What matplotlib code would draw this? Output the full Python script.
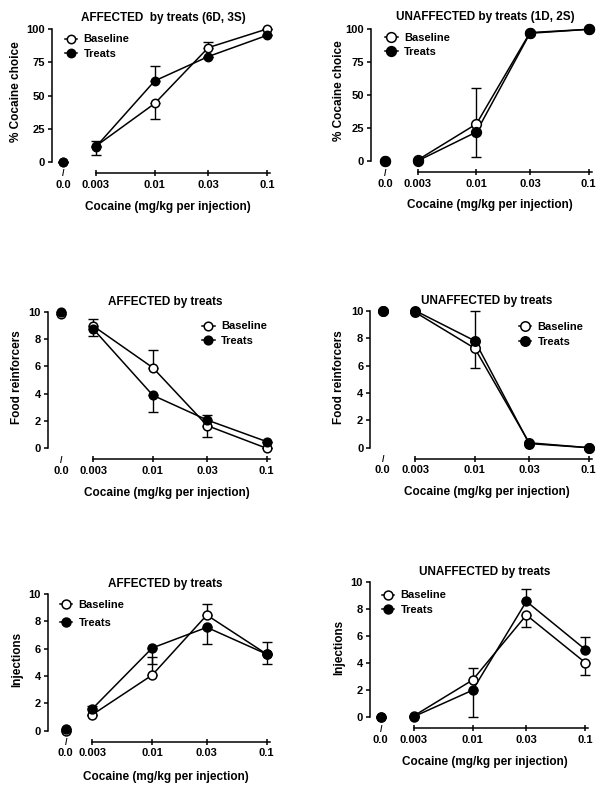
import numpy as np
import matplotlib
matplotlib.use("Agg")
import matplotlib.pyplot as plt
from matplotlib.lines import Line2D
from matplotlib import transforms

# ---- data ----
dose_labels = ['0.0', '0.003', '0.01', '0.03', '0.1']
doses = [0, 0.003, 0.01, 0.03, 0.1]

# % cocaine choice, affected
choice_aff_base = [0, 12, 44, 86, 100]
choice_aff_base_lo = [0, 0, 11.4, 0, 0]
choice_aff_base_hi = [0, 3.6, 0, 4.6, 0]
choice_aff_treat = [0, 11.5, 61, 79.3, 95.2]
choice_aff_treat_lo = [0, 6, 0, 0, 0]
choice_aff_treat_hi = [0, 0, 11.5, 0, 0]

# % cocaine choice, unaffected
choice_unaff_base = [0, 1, 28.3, 97.5, 100]
choice_unaff_base_lo = [0, 0, 0, 0, 0]
choice_unaff_base_hi = [0, 0, 27, 0, 0]
choice_unaff_treat = [0, 0.3, 22.2, 97, 100]
choice_unaff_treat_lo = [0, 0, 18.7, 0, 0]
choice_unaff_treat_hi = [0, 0, 0, 0, 0]

# food reinforcers, affected
food_aff_base = [9.8, 8.95, 5.9, 1.66, 0]
food_aff_base_lo = [0, 0, 0, 0.8, 0]
food_aff_base_hi = [0, 0.55, 1.3, 0, 0]
food_aff_treat = [10, 8.73, 3.88, 2.07, 0.49]
food_aff_treat_lo = [0, 0.53, 1.2, 0, 0]
food_aff_treat_hi = [0, 0, 0, 0.37, 0]

# food reinforcers, unaffected
food_unaff_base = [10, 9.88, 7.25, 0.36, 0]
food_unaff_base_lo = [0, 0, 1.4, 0, 0]
food_unaff_base_hi = [0, 0, 0, 0, 0]
food_unaff_treat = [10, 10, 7.8, 0.3, 0]
food_unaff_treat_lo = [0, 0, 0, 0, 0]
food_unaff_treat_hi = [0, 0, 2.2, 0, 0]

# injections, affected
inj_aff_base = [0, 1.17, 4.07, 8.46, 5.6]
inj_aff_base_lo = [0, 0, 0, 0, 0]
inj_aff_base_hi = [0, 0, 1.34, 0.8, 0.86]
inj_aff_treat = [0.1, 1.6, 6.05, 7.56, 5.6]
inj_aff_treat_lo = [0, 0, 1.17, 1.22, 0.75]
inj_aff_treat_hi = [0, 0.23, 0, 0, 0]

# injections, unaffected
inj_unaff_base = [0, 0.1, 2.75, 7.54, 4.03]
inj_unaff_base_lo = [0, 0, 0, 0.9, 0.9]
inj_unaff_base_hi = [0, 0, 0.9, 0, 0]
inj_unaff_treat = [0, 0.05, 2.0, 8.55, 5.0]
inj_unaff_treat_lo = [0, 0, 1.95, 0, 0]
inj_unaff_treat_hi = [0, 0, 0, 0.88, 0.95]

W, H = 604, 792
plt.rcParams['font.family'] = 'Liberation Sans'
plt.rcParams['font.weight'] = 'bold'
plt.rcParams['axes.labelweight'] = 'bold'

fig = plt.figure(figsize=(W / 100, H / 100), dpi=100)


def fx(x):
    return x / W


def fy(y):
    return 1 - y / H


def panel(lay, base, base_lo, base_hi, treat, treat_lo, treat_hi):
    spine_x, x0, xa, xb, ytop, ybot, ymax, yticks = lay['axes']
    ax = fig.add_axes([fx(spine_x), fy(ybot), (xb + 3 - spine_x) / W, (ybot - ytop) / H])
    ppd = (xb - xa) / np.log10(0.1 / 0.003)
    xmin = 0.003 * 10 ** (-(xa - spine_x) / ppd)
    xmax = 0.1 * 10 ** (3 / ppd)
    xz = 0.003 * 10 ** (-(xa - x0) / ppd)
    xs = [xz] + doses[1:]

    ax.set_xscale('log')
    ax.set_xlim(xmin, xmax)
    ax.set_ylim(0, ymax)
    ms = lay['ms']

    ax.errorbar(xs, base, yerr=[base_lo, base_hi], fmt='none', ecolor='black',
                elinewidth=1, capsize=3.6, capthick=1, zorder=2, clip_on=False)
    ax.errorbar(xs, treat, yerr=[treat_lo, treat_hi], fmt='none', ecolor='black',
                elinewidth=1, capsize=3.6, capthick=1, zorder=2, clip_on=False)
    ax.plot(xs[1:], base[1:], '-', color='black', lw=1.1, zorder=3, clip_on=False)
    ax.plot(xs[1:], treat[1:], '-', color='black', lw=1.1, zorder=3, clip_on=False)
    ax.plot(xs, base, 'o', ms=ms, mfc='white', mec='black', mew=1.1, zorder=4, clip_on=False)
    ax.plot(xs, treat, 'o', ms=ms, mfc='black', mec='black', mew=1.1, zorder=5, clip_on=False)

    for s in ['top', 'right']:
        ax.spines[s].set_visible(False)
    ax.spines['bottom'].set_position(('outward', 11 * 0.72))
    ax.spines['bottom'].set_bounds(0.003, xmax)
    ax.spines['left'].set_bounds(0, ymax)
    ax.spines['left'].set_linewidth(1.1)
    ax.spines['bottom'].set_linewidth(1.1)

    ax.set_xticks(xs)
    ax.set_xticklabels(dose_labels)
    ax.minorticks_off()
    ax.set_yticks(yticks)
    ax.set_yticklabels([str(t) for t in yticks])
    ax.tick_params(axis='y', direction='out', length=3, width=1.1, labelsize=8, pad=2)
    ax.tick_params(axis='x', direction='inout', length=4.5, width=1.1, labelsize=8, pad=2.5)
    ax.xaxis.get_major_ticks()[0].tick1line.set_visible(False)

    # axis break mark at the zero dose
    tr = transforms.blended_transform_factory(ax.transData, ax.transAxes)
    ax.text(xz, -12 / (ybot - ytop), '/', transform=tr, fontsize=6.5,
            ha='center', va='center', fontweight='bold')

    tx, ty = lay['title']
    fig.text(fx(tx), fy(ty), lay['title_text'], fontsize=8.5, ha='center', va='center')
    lx, ly = lay['ylabel']
    fig.text(fx(lx), fy(ly), lay['ylabel_text'], fontsize=8.5, ha='center', va='center',
             rotation=90)
    xlx, xly = lay['xlabel']
    fig.text(fx(xlx), fy(xly), 'Cocaine (mg/kg per injection)', fontsize=8.5,
             ha='center', va='center')

    hx, hy, lsp = lay['legend']
    handles = [Line2D([], [], color='black', lw=1.1, marker='o', ms=ms, mfc='white',
                      mec='black', mew=1.1),
               Line2D([], [], color='black', lw=1.1, marker='o', ms=ms, mfc='black',
                      mec='black', mew=1.1)]
    ax.legend(handles, ['Baseline', 'Treats'], loc='center left',
              bbox_to_anchor=(fx(hx), fy(hy)), bbox_transform=fig.transFigure,
              frameon=False, handlelength=1.1, handletextpad=0.6, labelspacing=lsp,
              borderpad=0, borderaxespad=0, fontsize=8)
    return ax


lay1 = dict(axes=(52, 63, 96, 267, 29, 162, 100, [0, 25, 50, 75, 100]), ms=6,
            title=(163.8, 18), title_text='AFFECTED  by treats (6D, 3S)',
            ylabel=(16, 91.7), ylabel_text='% Cocaine choice',
            xlabel=(167.7, 206.7), legend=(64.7, 46.7, 0.4))
lay2 = dict(axes=(371, 385, 417.7, 588.7, 29.3, 161.3, 100, [0, 25, 50, 75, 100]), ms=7,
            title=(485.7, 17.3), title_text='UNAFFECTED by treats (1D, 2S)',
            ylabel=(339.3, 90.8), ylabel_text='% Cocaine choice',
            xlabel=(489.7, 205), legend=(385.3, 45, 0.4))
lay3 = dict(axes=(47.7, 61, 93.3, 266.7, 311.7, 448.3, 10, [0, 2, 4, 6, 8, 10]), ms=6.2,
            title=(165, 301.7), title_text='AFFECTED by treats',
            ylabel=(17.3, 377), ylabel_text='Food reinforcers',
            xlabel=(166.7, 493.3), legend=(202.3, 333.7, 0.4))
lay4 = dict(axes=(370.3, 382.7, 415.3, 588.7, 310.7, 447.7, 10, [0, 2, 4, 6, 8, 10]), ms=6.8,
            title=(487, 300.7), title_text='UNAFFECTED by treats',
            ylabel=(339.3, 376.7), ylabel_text='Food reinforcers',
            xlabel=(486.7, 492.3), legend=(518.7, 334.7, 0.45))
lay5 = dict(axes=(47.7, 65.7, 92.3, 266.7, 594, 730.7, 10, [0, 2, 4, 6, 8, 10]), ms=6.4,
            title=(165, 584.3), title_text='AFFECTED by treats',
            ylabel=(17.3, 659), ylabel_text='Injections',
            xlabel=(165.5, 776.7), legend=(59.7, 613.8, 0.75))
lay6 = dict(axes=(369.7, 380.7, 413.7, 585.3, 581.7, 717.3, 10, [0, 2, 4, 6, 8, 10]), ms=6.4,
            title=(484.5, 572.3), title_text='UNAFFECTED by treats',
            ylabel=(339.3, 647), ylabel_text='Injections',
            xlabel=(484.8, 761.7), legend=(381.7, 602.7, 0.4))

panel(lay1, choice_aff_base, choice_aff_base_lo, choice_aff_base_hi,
      choice_aff_treat, choice_aff_treat_lo, choice_aff_treat_hi)
panel(lay2, choice_unaff_base, choice_unaff_base_lo, choice_unaff_base_hi,
      choice_unaff_treat, choice_unaff_treat_lo, choice_unaff_treat_hi)
panel(lay3, food_aff_base, food_aff_base_lo, food_aff_base_hi,
      food_aff_treat, food_aff_treat_lo, food_aff_treat_hi)
panel(lay4, food_unaff_base, food_unaff_base_lo, food_unaff_base_hi,
      food_unaff_treat, food_unaff_treat_lo, food_unaff_treat_hi)
panel(lay5, inj_aff_base, inj_aff_base_lo, inj_aff_base_hi,
      inj_aff_treat, inj_aff_treat_lo, inj_aff_treat_hi)
panel(lay6, inj_unaff_base, inj_unaff_base_lo, inj_unaff_base_hi,
      inj_unaff_treat, inj_unaff_treat_lo, inj_unaff_treat_hi)

fig.savefig('out.png', dpi=100)
